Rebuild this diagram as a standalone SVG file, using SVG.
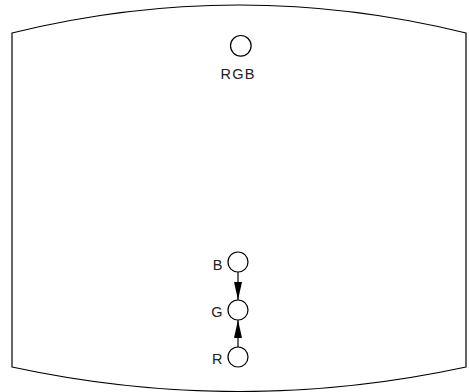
<svg xmlns="http://www.w3.org/2000/svg" width="469" height="392" viewBox="0 0 469 392">
<style>
.frame{fill:none;stroke:#000;stroke-width:1.2}
.node{fill:#fff;stroke:#000;stroke-width:1.2}
.edge{fill:none;stroke:#000;stroke-width:1.2}
.lbl{font-family:"Liberation Sans",Arial,sans-serif;font-size:14.5px;fill:#222}
</style>
<defs>
<marker id="ah" viewBox="0 0 18 8" refX="18" refY="4" markerWidth="18" markerHeight="8" markerUnits="userSpaceOnUse" orient="auto">
<path d="M0,0 L18,4 L0,8 Z" fill="#000"/>
</marker>
</defs>
<rect width="469" height="392" fill="#fff"/>
<path class="frame" d="M12,33 Q239,-23 466,33 L466,367 Q239,416 12,367 Z"/>
<g id="connectors">
<line class="edge" x1="238" y1="272" x2="238" y2="300" marker-end="url(#ah)"/>
<line class="edge" x1="238" y1="347" x2="238" y2="320" marker-end="url(#ah)"/>
</g>
<g id="node-RGB">
<circle class="node" cx="240.8" cy="45.8" r="10.3"/>
<text class="lbl" x="238" y="79" text-anchor="middle" letter-spacing="1.2">RGB</text>
</g>
<g id="node-B">
<circle class="node" cx="238" cy="262" r="10"/>
<text class="lbl" x="222.5" y="270" text-anchor="end">B</text>
</g>
<g id="node-G">
<circle class="node" cx="238" cy="310" r="10"/>
<text class="lbl" x="222.5" y="317" text-anchor="end">G</text>
</g>
<g id="node-R">
<circle class="node" cx="238" cy="357" r="10"/>
<text class="lbl" x="222.5" y="363.5" text-anchor="end">R</text>
</g>
</svg>
